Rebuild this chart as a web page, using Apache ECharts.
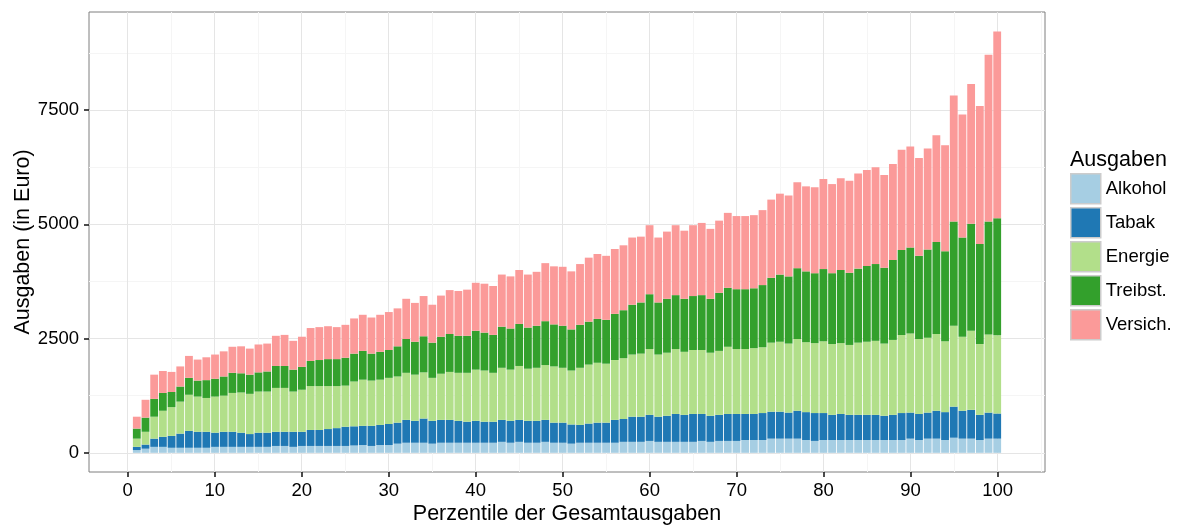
<!DOCTYPE html>
<html><head><meta charset="utf-8">
<script src="https://cdn.jsdelivr.net/npm/echarts@6/dist/echarts.min.js"></script>
<style>html,body{margin:0;padding:0;background:#fff}#c{width:1177px;height:527px}</style>
</head><body><div id="c"></div>
<script>
const percentiles = [1,2,3,4,5,6,7,8,9,10,11,12,13,14,15,16,17,18,19,20,21,22,23,24,25,26,27,28,29,30,31,32,33,34,35,36,37,38,39,40,41,42,43,44,45,46,47,48,49,50,51,52,53,54,55,56,57,58,59,60,61,62,63,64,65,66,67,68,69,70,71,72,73,74,75,76,77,78,79,80,81,82,83,84,85,86,87,88,89,90,91,92,93,94,95,96,97,98,99,100];
const alkohol = [60,90,130,130,110,110,110,110,110,130, 130,130,130,130,130,130,150,150,130,150, 150,150,150,150,150,160,170,150,170,170, 200,220,220,220,200,220,220,220,220,220, 220,220,240,220,240,220,220,240,220,220, 200,220,220,220,220,220,240,240,240,260, 240,240,240,240,240,260,240,260,260,260, 280,280,280,310,310,310,310,280,260,280, 280,280,280,280,280,280,280,280,280,310, 280,310,310,280,330,310,310,280,310,310];
const tabak = [70,90,180,220,260,310,370,350,350,310, 330,330,310,280,310,310,310,310,330,310, 350,350,370,390,420,420,420,440,440,460, 460,500,480,530,500,500,500,480,460,480, 460,460,480,480,480,480,480,480,440,440, 420,390,420,440,440,500,500,550,550,570, 550,570,610,590,610,590,570,570,590,590, 570,570,590,590,590,570,610,610,610,590, 550,570,550,550,550,550,530,550,590,570, 570,570,610,610,680,610,630,550,570,550];
const energie = [180,280,480,570,630,700,790,770,740,790, 790,850,880,880,900,900,960,960,880,920, 960,960,940,920,900,980,1010,990,990,1010, 1010,1030,1010,1010,940,1010,1050,1050,1070,1120, 1120,1070,1140,1120,1180,1140,1160,1200,1230,1200, 1180,1250,1290,1310,1290,1310,1330,1360,1380,1440, 1360,1380,1420,1380,1400,1400,1380,1400,1470,1420, 1420,1440,1440,1510,1530,1510,1570,1530,1530,1570, 1550,1550,1530,1580,1600,1620,1580,1640,1710,1730, 1640,1640,1680,1550,1770,1620,1730,1550,1710,1710];
const treibst = [220,310,390,390,330,330,370,350,390,390, 420,440,420,420,420,440,480,480,480,500, 550,570,590,590,610,610,630,590,610,610, 660,740,720,790,770,810,830,810,810,850, 830,830,900,900,920,900,920,960,920,920, 900,940,940,960,960,1010,1050,1090,1120,1200, 1140,1180,1180,1160,1180,1200,1180,1270,1290,1310, 1310,1310,1360,1420,1470,1470,1550,1550,1530,1580, 1550,1600,1580,1620,1660,1680,1660,1750,1860,1880, 1820,1930,2010,1970,2280,2170,2340,2190,2470,2560];
const versich = [260,390,530,480,440,440,480,460,500,530, 550,570,590,570,610,610,660,680,630,660, 720,720,720,700,720,770,790,790,810,830, 830,880,850,880,830,900,960,980,1010,1050, 1070,1070,1140,1140,1180,1160,1180,1270,1270,1290, 1270,1330,1400,1420,1400,1420,1420,1470,1440,1510, 1420,1470,1530,1490,1550,1580,1530,1580,1640,1600, 1600,1600,1640,1710,1770,1770,1880,1860,1880,1970, 1950,2010,2010,2080,2100,2120,2030,2100,2190,2210, 2140,2210,2340,2320,2760,2690,3060,3020,3650,4090];
const seriesNames = ['Alkohol','Tabak','Energie','Treibst.','Versich.'];
const seriesColors = ['#A6CEE3','#1F78B4','#B2DF8A','#33A02C','#FB9A99'];
const yTicks = [0,2500,5000,7500];
const yMinor = [1250,3750,6250,8750];
const xTicks = [0,10,20,30,40,50,60,70,80,90,100];
const xMinor = [5,15,25,35,45,55,65,75,85,95,105];

// band axis covering the visible range -4 .. 105 (one band per integer)
const bandCats = [];
for (let v = -4; v <= 105; v++) bandCats.push(String(v));
const layers = [alkohol, tabak, energie, treibst, versich];
function toBands(arr) {
  return bandCats.map(c => { const i = percentiles.indexOf(Number(c)); return i >= 0 ? arr[i] : null; });
}

const FONT = 'Liberation Sans, Arial, Helvetica, sans-serif';
const series = layers.map((arr, k) => ({
  name: seriesNames[k], type: 'bar', xAxisIndex: 2, yAxisIndex: 0,
  stack: 'total', barWidth: '90%',
  itemStyle: { color: seriesColors[k] },
  data: toBands(arr), silent: true
}));

const chart = echarts.init(document.getElementById('c'), null, { renderer: 'canvas' });
chart.setOption({
  animation: false,
  backgroundColor: '#fff',
  textStyle: { fontFamily: FONT },
  title: { text: 'Ausgaben', left: 1070, top: 149, padding: 0,
    textStyle: { fontSize: 21.5, fontWeight: 'normal', color: '#000', fontFamily: FONT } },
  legend: {
    orient: 'vertical', left: 1070, top: 173, padding: 0,
    itemWidth: 30, itemHeight: 30, itemGap: 2.5, icon: 'rect', selectedMode: false,
    itemStyle: { borderColor: '#cccccc', borderWidth: 1.5 },
    textStyle: { fontSize: 18.5, color: '#000', fontFamily: FONT },
    data: seriesNames
  },
  grid: { left: 89, right: 132, top: 12, bottom: 55, show: true,
    borderColor: '#7f7f7f', borderWidth: 1, backgroundColor: '#fff', outerBoundsMode: 'none' },
  xAxis: [{
    type: 'value', min: -4.45, max: 105.45, position: 'bottom',
    axisLine: { show: false, onZero: false },
    axisTick: { show: true, length: 5, customValues: xTicks, lineStyle: { color: '#111', width: 1.5 } },
    axisLabel: { customValues: xTicks, fontSize: 18.5, color: '#000', margin: 9, fontFamily: FONT },
    splitLine: { show: true, lineStyle: { color: '#e5e5e5', width: 1 } },
    name: 'Perzentile der Gesamtausgaben', nameLocation: 'middle', nameGap: 31, nameMoveOverlap: false,
    nameTextStyle: { fontSize: 21.5, color: '#000', fontFamily: FONT }
  }, {
    type: 'value', min: -4.45, max: 105.45, position: 'top',
    axisLine: { show: false, onZero: false }, axisLabel: { show: false },
    axisTick: { show: false, customValues: xMinor },
    splitLine: { show: true, lineStyle: { color: '#f5f5f5', width: 1 } }
  }, {
    type: 'category', data: bandCats, show: false, boundaryGap: true, position: 'bottom',
    axisLine: { show: false, onZero: false },
    splitLine: { show: false }
  }],
  yAxis: [{
    type: 'value', min: -420, max: 9645, position: 'left',
    axisLine: { show: false, onZero: false },
    axisTick: { show: true, length: 5, customValues: yTicks, lineStyle: { color: '#111', width: 1.5 } },
    axisLabel: { customValues: yTicks, fontSize: 18.5, color: '#000', margin: 10, fontFamily: FONT,
      formatter: v => String(v) },
    splitLine: { show: true, lineStyle: { color: '#e5e5e5', width: 1 } },
    name: 'Ausgaben (in Euro)', nameLocation: 'middle', nameGap: 55, nameMoveOverlap: false,
    nameTextStyle: { fontSize: 21.5, color: '#000', fontFamily: FONT }
  }, {
    type: 'value', min: -420, max: 9645, position: 'right',
    axisLine: { show: false, onZero: false }, axisLabel: { show: false },
    axisTick: { show: false, customValues: yMinor },
    splitLine: { show: true, lineStyle: { color: '#f5f5f5', width: 1 } }
  }],
  series: series
});
</script></body></html>
